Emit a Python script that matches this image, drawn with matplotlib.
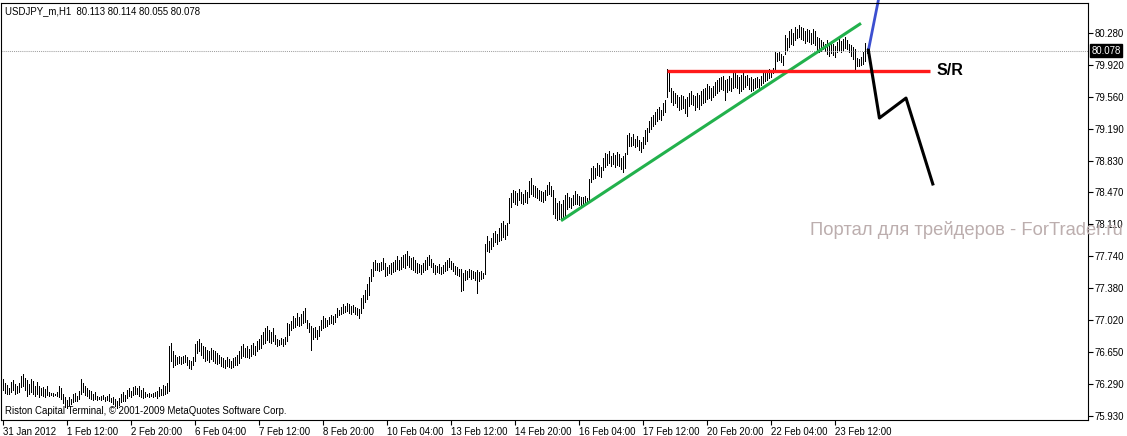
import matplotlib.pyplot as plt

# USDJPY H1 bars (high / low per bar)
highs = [
    76.34, 76.30, 76.28, 76.24, 76.31, 76.33, 76.29, 76.27, 76.30, 76.38,
    76.40, 76.36, 76.33, 76.29, 76.35, 76.32, 76.27, 76.31, 76.26, 76.24,
    76.25, 76.23, 76.27, 76.20, 76.19, 76.19, 76.18, 76.20, 76.26, 76.24,
    76.18, 76.14, 76.11, 76.14, 76.12, 76.17, 76.19, 76.15, 76.21, 76.34,
    76.30, 76.26, 76.24, 76.22, 76.21, 76.18, 76.20, 76.15, 76.14, 76.15,
    76.16, 76.14, 76.15, 76.17, 76.13, 76.14, 76.12, 76.10, 76.13, 76.18,
    76.20, 76.16, 76.22, 76.24, 76.21, 76.25, 76.27, 76.24, 76.26, 76.22,
    76.24, 76.20, 76.18, 76.19, 76.18, 76.19, 76.20, 76.21, 76.25, 76.23,
    76.28, 76.27, 76.30, 76.72, 76.75, 76.66, 76.62, 76.60, 76.61, 76.60,
    76.61, 76.62, 76.59, 76.56, 76.55, 76.60, 76.74, 76.78, 76.80, 76.76,
    76.72, 76.71, 76.68, 76.66, 76.70, 76.67, 76.66, 76.64, 76.62, 76.60,
    76.58, 76.56, 76.59, 76.57, 76.55, 76.58, 76.60, 76.62, 76.66, 76.72,
    76.74, 76.70, 76.72, 76.69, 76.73, 76.75, 76.72, 76.78, 76.80, 76.84,
    76.88, 76.93, 76.95, 76.90, 76.88, 76.92, 76.85, 76.80, 76.79, 76.81,
    76.80, 76.82, 76.98, 76.97, 77.00, 77.06, 77.04, 77.10, 77.05, 77.08,
    77.12, 77.15, 77.02, 76.98, 76.95, 76.92, 76.94, 76.90, 76.95, 77.02,
    77.06, 77.04, 77.02, 77.05, 77.07, 77.06, 77.08, 77.15, 77.13, 77.16,
    77.20, 77.18, 77.21, 77.20, 77.17, 77.19, 77.16, 77.15, 77.14, 77.27,
    77.30, 77.36, 77.43, 77.50, 77.60, 77.68, 77.70, 77.67, 77.66, 77.68,
    77.72, 77.66, 77.62, 77.64, 77.66, 77.68, 77.70, 77.74, 77.70, 77.73,
    77.75, 77.77, 77.80, 77.74, 77.72, 77.73, 77.70, 77.66, 77.65, 77.64,
    77.66, 77.70, 77.73, 77.76, 77.71, 77.66, 77.64, 77.63, 77.65, 77.62,
    77.64, 77.68, 77.70, 77.72, 77.69, 77.66, 77.63, 77.62, 77.60, 77.60,
    77.55, 77.58, 77.57, 77.60, 77.58, 77.57, 77.56, 77.58, 77.56, 77.57,
    77.55, 77.88, 77.97, 77.92, 77.95, 78.00, 78.03, 77.99, 78.06, 78.12,
    78.14, 78.10, 78.12, 78.40, 78.46, 78.50, 78.48, 78.46, 78.51, 78.47,
    78.45, 78.49, 78.47, 78.60, 78.63, 78.55, 78.54, 78.52, 78.50, 78.48,
    78.47, 78.50, 78.55, 78.58, 78.54, 78.50, 78.40, 78.35, 78.37, 78.34,
    78.38, 78.44, 78.46, 78.42, 78.40, 78.44, 78.48, 78.45, 78.43, 78.42,
    78.41, 78.43, 78.40, 78.62, 78.75, 78.77, 78.74, 78.80, 78.78, 78.76,
    78.86, 78.92, 78.90, 78.94, 78.88, 78.92, 78.89, 78.93, 78.90, 78.86,
    78.88, 78.92, 79.12, 79.14, 79.10, 79.13, 79.08, 79.11, 79.06, 79.04,
    79.10, 79.18, 79.20, 79.28, 79.32, 79.35, 79.38, 79.42, 79.44, 79.40,
    79.48, 79.52, 79.87, 79.85, 79.66, 79.62, 79.60, 79.57, 79.55, 79.58,
    79.56, 79.53, 79.55, 79.60, 79.62, 79.58, 79.56, 79.60, 79.58, 79.62,
    79.64, 79.66, 79.70, 79.68, 79.66, 79.68, 79.72, 79.74, 79.77, 79.78,
    79.79, 79.74, 79.76, 79.79, 79.77, 79.82, 79.83, 79.80, 79.78, 79.80,
    79.82, 79.79, 79.80, 79.77, 79.78, 79.76, 79.77, 79.78, 79.76, 79.79,
    79.82, 79.83, 79.86, 79.87, 79.86, 79.88, 80.06, 80.05, 80.06, 80.04,
    80.02, 80.26, 80.22, 80.30, 80.33, 80.28, 80.35, 80.33, 80.37, 80.35,
    80.34, 80.30, 80.33, 80.31, 80.28, 80.32, 80.30, 80.24, 80.22, 80.20,
    80.18, 80.16, 80.20, 80.17, 80.19, 80.15, 80.13, 80.18, 80.22, 80.19,
    80.21, 80.24, 80.20, 80.16, 80.14, 80.12, 80.10, 80.00, 79.99, 80.01,
    80.06, 80.17, 80.114,
]
lows = [
    76.22, 76.19, 76.17, 76.18, 76.20, 76.22, 76.18, 76.19, 76.20, 76.25,
    76.27, 76.22, 76.15, 76.17, 76.20, 76.18, 76.15, 76.17, 76.14, 76.16,
    76.15, 76.14, 76.16, 76.15, 76.16, 76.15, 76.16, 76.15, 76.14, 76.12,
    76.07, 76.03, 76.02, 76.05, 76.06, 76.08, 76.09, 76.10, 76.12, 76.18,
    76.20, 76.16, 76.15, 76.13, 76.12, 76.11, 76.12, 76.11, 76.12, 76.11,
    76.12, 76.10, 76.11, 76.10, 76.08, 76.06, 76.04, 76.01, 76.05, 76.08,
    76.10, 76.09, 76.13, 76.15, 76.14, 76.16, 76.18, 76.17, 76.15, 76.14,
    76.13, 76.14, 76.15, 76.14, 76.15, 76.14, 76.15, 76.13, 76.15, 76.16,
    76.16, 76.17, 76.19, 76.21, 76.55, 76.48, 76.50, 76.52, 76.53, 76.52,
    76.53, 76.54, 76.51, 76.47, 76.46, 76.50, 76.55, 76.64, 76.66, 76.62,
    76.58, 76.55, 76.56, 76.54, 76.57, 76.55, 76.53, 76.52, 76.53, 76.49,
    76.48, 76.47, 76.49, 76.48, 76.47, 76.48, 76.50, 76.51, 76.53, 76.58,
    76.61, 76.59, 76.60, 76.58, 76.61, 76.63, 76.62, 76.66, 76.69, 76.70,
    76.74, 76.76, 76.79, 76.77, 76.76, 76.78, 76.74, 76.72, 76.73, 76.74,
    76.72, 76.74, 76.78, 76.85, 76.90, 76.93, 76.94, 76.96, 76.95, 76.96,
    76.98, 76.99, 76.92, 76.88, 76.68, 76.80, 76.82, 76.80, 76.83, 76.90,
    76.92, 76.94, 76.95, 76.97, 76.98, 76.97, 76.99, 77.05, 77.07, 77.08,
    77.10, 77.11, 77.12, 77.10, 77.09, 77.11, 77.09, 77.07, 77.04, 77.10,
    77.15, 77.22, 77.26, 77.30, 77.46, 77.52, 77.58, 77.59, 77.57, 77.59,
    77.60, 77.52, 77.53, 77.55, 77.54, 77.56, 77.57, 77.60, 77.58, 77.60,
    77.62, 77.61, 77.64, 77.62, 77.60, 77.58, 77.56, 77.55, 77.56, 77.54,
    77.56, 77.58, 77.60, 77.64, 77.62, 77.56, 77.54, 77.56, 77.55, 77.54,
    77.55, 77.57, 77.59, 77.62, 77.60, 77.57, 77.54, 77.53, 77.52, 77.35,
    77.36, 77.47, 77.48, 77.50, 77.48, 77.49, 77.47, 77.32, 77.46, 77.48,
    77.49, 77.54, 77.80, 77.79, 77.82, 77.86, 77.90, 77.88, 77.92, 77.93,
    77.96, 77.94, 77.98, 78.12, 78.30, 78.36, 78.34, 78.32, 78.38, 78.35,
    78.33, 78.36, 78.35, 78.42, 78.45, 78.43, 78.42, 78.40, 78.38, 78.37,
    78.36, 78.38, 78.44, 78.45, 78.43, 78.22, 78.18, 78.15, 78.16, 78.15,
    78.17, 78.20, 78.28, 78.30, 78.29, 78.32, 78.33, 78.34, 78.32, 78.31,
    78.33, 78.32, 78.34, 78.37, 78.58, 78.62, 78.63, 78.66, 78.65, 78.64,
    78.72, 78.76, 78.78, 78.80, 78.77, 78.79, 78.76, 78.78, 78.77, 78.73,
    78.70, 78.74, 78.90, 79.00, 78.99, 79.01, 78.98, 79.00, 78.95, 78.93,
    78.97, 79.02, 79.05, 79.15, 79.19, 79.22, 79.24, 79.28, 79.30, 79.29,
    79.35, 79.38, 79.55, 79.62, 79.50, 79.46, 79.48, 79.44, 79.40, 79.42,
    79.43, 79.37, 79.34, 79.45, 79.47, 79.46, 79.40, 79.44, 79.42, 79.46,
    79.48, 79.50, 79.53, 79.54, 79.52, 79.55, 79.58, 79.60, 79.62, 79.64,
    79.63, 79.52, 79.61, 79.63, 79.62, 79.66, 79.67, 79.65, 79.60, 79.62,
    79.64, 79.67, 79.69, 79.64, 79.62, 79.63, 79.66, 79.67, 79.66, 79.69,
    79.71, 79.73, 79.75, 79.77, 79.78, 79.82, 79.85, 79.96, 79.97, 79.95,
    79.92, 80.04, 80.08, 80.12, 80.16, 80.14, 80.20, 80.22, 80.24, 80.21,
    80.20, 80.17, 80.19, 80.18, 80.15, 80.17, 80.14, 80.08, 80.06, 80.07,
    80.10, 80.07, 80.04, 80.02, 80.05, 80.03, 80.01, 80.06, 80.08, 80.06,
    80.09, 80.11, 80.10, 80.06, 80.02, 79.99, 79.85, 79.90, 79.91, 79.92,
    79.93, 79.96, 80.055,
]

time_labels = ["31 Jan 2012", "1 Feb 12:00", "2 Feb 20:00", "6 Feb 04:00",
               "7 Feb 12:00", "8 Feb 20:00", "10 Feb 04:00", "13 Feb 12:00",
               "14 Feb 20:00", "16 Feb 04:00", "17 Feb 12:00", "20 Feb 20:00",
               "22 Feb 04:00", "23 Feb 12:00"]
price_labels = ["80.280", "79.920", "79.560", "79.190", "78.830", "78.470",
                "78.110", "77.740", "77.380", "77.020", "76.650", "76.290",
                "75.930"]
price_hi, price_lo = 80.280, 75.930
last_price = 80.078
title = "USDJPY_m,H1  80.113 80.114 80.055 80.078"

# hand-drawn objects (bar index, price)
sr_x, sr_y = [331.8, 463.5], [79.848, 79.848]
trend_x, trend_y = [279.0, 429.0], [78.145, 80.39]
up_x, up_y = [432.7, 437.7], [80.083, 80.655]
down_x = [432.7, 438.2, 451.5, 464.9]
down_y = [80.083, 79.313, 79.54, 78.563]

font = "Liberation Sans"
fs = 6.9
W, H = 1127, 436
# plot frame in pixels
L, R, T, B = 1, 1088, 3, 420
ppu = (415.5 - 33) / (price_hi - price_lo)  # pixels per price unit

fig = plt.figure(figsize=(W / 100, H / 100), dpi=100)
ax = fig.add_axes([L / W, 1 - B / H, (R - L) / W, (B - T) / H])
ax.set_xlim((L - 3) / 2, (R - 3) / 2)
ax.set_ylim(price_lo - (B - 415.5) / ppu, price_hi + (33 - T) / ppu)

n = len(highs)
ax.vlines(range(n), lows, highs, color="black", linewidth=0.5, antialiased=False)

ax.axhline(last_price, color="#a0a0a0", linewidth=0.75, linestyle=(0, (1, 1)))

ax.plot(trend_x, trend_y, color="#22b14c", linewidth=2.2, solid_capstyle="butt")
ax.plot(sr_x, sr_y, color="#ff1a1a", linewidth=2.4, solid_capstyle="butt")
ax.plot(up_x, up_y, color="#3c4fd0", linewidth=2.0, clip_on=False)
ax.plot(down_x, down_y, color="black", linewidth=2.2)
ax.text(sr_x[1] + 3.5, sr_y[0], "S/R", fontsize=11.5, fontweight="bold",
        family=font, va="center", ha="left")

fig.text(5 / W, 1 - 11 / H, title, fontsize=fs, family=font, va="center")
fig.text(5 / W, 1 - 411 / H, "Riston Capital Terminal, \u00a9 2001-2009 MetaQuotes Software Corp.",
         fontsize=fs, family=font, va="center")
fig.text(810 / W, 1 - 230 / H, "Портал для трейдеров - ForTrader.ru",
         fontsize=13.2, family=font, color="#bcaeae", va="center")

# axes
step = (price_hi - price_lo) / (len(price_labels) - 1)
ax.set_yticks([price_hi - k * step for k in range(len(price_labels))])
ax.set_yticklabels(price_labels)
ax.yaxis.tick_right()
ax.set_xticks(range(0, n, 32))
ax.set_xticklabels(time_labels)
for lbl in ax.get_xticklabels():
    lbl.set_ha("left")
ax.tick_params(axis="both", direction="out", length=3.5, width=0.8,
               labelsize=fs, pad=1.5)
for lbl in ax.get_xticklabels() + ax.get_yticklabels():
    lbl.set_family(font)
for s in ax.spines.values():
    s.set_linewidth(0.8)

ax.text(1.003, last_price, "80.078", transform=ax.get_yaxis_transform(),
        fontsize=fs, family=font, color="white", va="center", ha="left",
        bbox=dict(facecolor="black", edgecolor="black", pad=1.2))

fig.savefig("out.png", dpi=100)
